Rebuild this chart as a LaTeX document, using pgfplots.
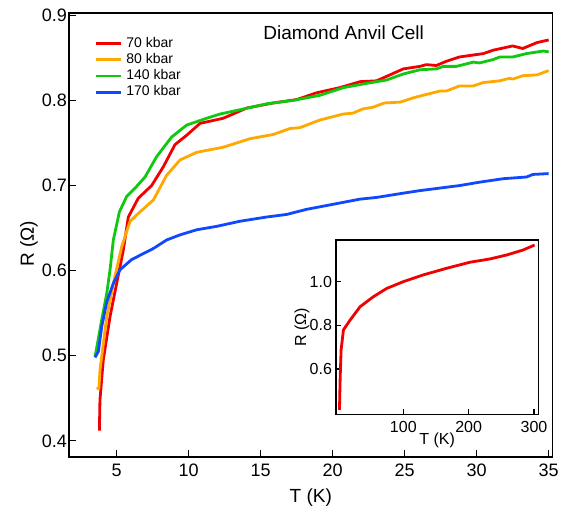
\documentclass[border=0pt]{standalone}
\usepackage{pgfplots}
\pgfplotsset{compat=1.18}
\usepackage{fontspec}
\setmainfont{Liberation Sans}

\definecolor{cred}{RGB}{240,0,0}
\definecolor{corange}{RGB}{255,168,0}
\definecolor{cgreen}{RGB}{16,200,16}
\definecolor{cblue}{RGB}{16,72,255}

\begin{document}
\begin{tikzpicture}
% page frame like the reference margins
\path (-34.5pt,-27pt) rectangle (249pt,228.5pt);
\begin{axis}[
    name=main,
    at={(0,0)}, anchor=south west,
    scale only axis,
    width=241.85pt, height=222pt,
    xmin=1.69, xmax=35.28,
    ymin=0.381, ymax=0.9027,
    xtick={5,10,...,35},
    ytick={0.4,0.5,...,0.9},
    yticklabel style={xshift=2.5pt,/pgf/number format/.cd,fixed,fixed zerofill,precision=1},
    /pgf/number format/assume math mode=true,
    tick align=inside,
    major tick length=3.3pt,
    xtick pos=bottom, ytick pos=left,
    axis line style={line width=0.7pt},
    every tick/.style={black,line width=0.6pt},
    tick label style={font=\fontsize{9}{10}\selectfont},
    label style={font=\fontsize{9.5}{11}\selectfont},
    xlabel={T (K)},
    ylabel={R (Ω)},
    xlabel style={at={(axis description cs:0.5,0)},anchor=center,yshift=-20.5pt},
    ylabel style={at={(axis description cs:-0.083,0.48)},anchor=center},
    legend style={draw=none, fill=none, at={(0.048,0.96)}, anchor=north west,
        font=\fontsize{7}{8}\selectfont, inner sep=1pt, row sep=-2.5pt},
    legend cell align=left,
    legend image code/.code={\draw[#1] (0pt,0pt) -- (12.5pt,0pt);},
    every axis plot/.append style={line width=1.4pt, line join=round},
]
\addplot[cred] coordinates {
(3.80,0.412) (3.84,0.448) (4.07,0.495) (4.54,0.546) (5.0,0.585) (5.46,0.624)
(5.81,0.663) (6.5,0.685) (7.43,0.70) (8.24,0.722) (9.05,0.748) (9.86,0.759)
(10.79,0.773) (12.4,0.779) (14.03,0.791) (15.88,0.797) (17.5,0.801) (18.9,0.809)
(20.5,0.815) (21.9,0.822) (23.05,0.823) (23.98,0.830) (24.9,0.837) (26.06,0.840)
(26.5,0.842) (27.2,0.841) (27.9,0.846) (28.8,0.851) (30.46,0.855) (31.15,0.859)
(32.5,0.864) (33.2,0.861) (34.2,0.868) (35.0,0.871)};
\addlegendentry{70 kbar}
\addplot[corange] coordinates {
(3.61,0.461) (3.77,0.462) (3.84,0.483) (4.31,0.546) (4.77,0.585) (5.35,0.628)
(5.93,0.658) (6.62,0.669) (7.55,0.683) (8.47,0.712) (9.4,0.730) (10.56,0.739)
(12.4,0.745) (14.26,0.755) (15.88,0.760) (17.04,0.767) (17.73,0.768) (19.12,0.777)
(20.74,0.784) (21.4,0.785) (22.1,0.790) (22.8,0.792) (23.6,0.797) (24.7,0.798)
(25.6,0.803) (26.5,0.807) (27.45,0.811) (27.9,0.811) (28.8,0.817) (29.77,0.817)
(30.46,0.821) (31.6,0.823) (32.3,0.826) (32.5,0.825) (33.2,0.829) (34.2,0.830)
(35.0,0.835)};
\addlegendentry{80 kbar}
\addplot[cgreen] coordinates {
(3.50,0.499) (3.61,0.509) (3.96,0.542) (4.31,0.573) (4.54,0.601) (4.77,0.636)
(5.19,0.669) (5.69,0.687) (6.39,0.699) (6.97,0.710) (7.78,0.734) (8.82,0.757)
(9.86,0.771) (11.25,0.779) (12.18,0.784) (13.56,0.789) (15.42,0.796) (17.27,0.800)
(19.12,0.806) (20.74,0.815) (22.36,0.820) (23.75,0.824) (24.9,0.831) (26.06,0.836)
(27.2,0.837) (27.7,0.840) (28.6,0.840) (29.77,0.845) (30.2,0.844) (31.15,0.848)
(31.6,0.851) (32.5,0.851) (33.47,0.855) (34.63,0.858) (35.0,0.857)};
\addlegendentry{140 kbar}
\addplot[cblue] coordinates {
(3.50,0.498) (3.73,0.505) (3.96,0.534) (4.31,0.563) (4.77,0.585) (5.23,0.601)
(6.04,0.613) (7.55,0.626) (8.47,0.636) (9.4,0.642) (10.56,0.648) (11.94,0.652)
(13.56,0.658) (15.42,0.663) (16.8,0.666) (18.19,0.672) (20.05,0.678) (21.9,0.684)
(23.05,0.686) (24.9,0.691) (26.06,0.694) (27.45,0.697) (28.84,0.700) (30.23,0.704)
(31.85,0.708) (33.47,0.710) (33.9,0.713) (35.0,0.714)};
\addlegendentry{170 kbar}
\node[font=\fontsize{9.5}{11}\selectfont] at (axis cs:20.76,0.880) {Diamond Anvil Cell};
\end{axis}

\begin{axis}[
    at={(133.5pt,21.35pt)}, anchor=south west,
    scale only axis,
    width=101.15pt, height=87.15pt,
    xmin=-3, xmax=306.6,
    ymin=0.392, ymax=1.191,
    xtick={100,200,300},
    ytick={0.6,0.8,1.0},
    yticklabel style={xshift=1.5pt,/pgf/number format/.cd,fixed,fixed zerofill,precision=1},
    /pgf/number format/assume math mode=true,
    tick align=inside,
    major tick length=2.6pt,
    xtick pos=bottom, ytick pos=left,
    axis line style={line width=0.7pt},
    every tick/.style={black,line width=0.6pt},
    tick label style={font=\fontsize{8}{9}\selectfont},
    label style={font=\fontsize{8}{9}\selectfont},
    xlabel={T (K)},
    ylabel={R (Ω)},
    xlabel style={at={(axis description cs:0.5,0)},anchor=center,yshift=-13.2pt},
    ylabel style={at={(axis description cs:-0.168,0.5)},anchor=center},
]
\addplot[cred, line width=1.4pt, line join=round] coordinates {
(2.3,0.412) (3.3,0.550) (4.8,0.687) (8.4,0.779) (18.6,0.824) (33.8,0.885)
(54.2,0.931) (74.6,0.969) (100,1.0) (130.5,1.031) (165.8,1.061) (201.8,1.089)
(232.3,1.104) (257.8,1.122) (283.2,1.145) (301,1.168)};
\end{axis}
\end{tikzpicture}
\end{document}
